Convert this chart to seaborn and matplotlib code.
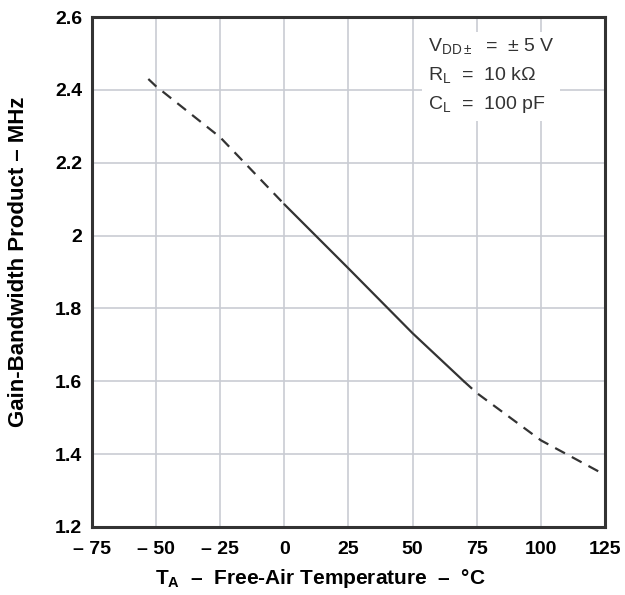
import matplotlib
matplotlib.use("Agg")
import matplotlib.pyplot as plt
import seaborn as sns
import numpy as np

# Data
temp_low = [-53, -50, -25, 0]
gbw_low = [2.43, 2.41, 2.27, 2.086]
temp_mid = [0, 25, 50, 70]
gbw_mid = [2.086, 1.91, 1.732, 1.60]
temp_high = [70, 75, 100, 125]
gbw_high = [1.60, 1.568, 1.438, 1.343]

x_ticks = [-75, -50, -25, 0, 25, 50, 75, 100, 125]
x_tick_labels = ["\u2013 75", "\u2013 50", "\u2013 25", "0", "25", "50", "75", "100", "125"]
y_ticks = [1.2, 1.4, 1.6, 1.8, 2.0, 2.2, 2.4, 2.6]
y_tick_labels = ["1.2", "1.4", "1.6", "1.8", "2", "2.2", "2.4", "2.6"]

sns.set_style("white")
plt.rcParams["font.family"] = ["Liberation Sans", "DejaVu Sans"]
plt.rcParams["mathtext.fontset"] = "custom"
plt.rcParams["mathtext.rm"] = "Liberation Sans"
plt.rcParams["mathtext.bf"] = "Liberation Sans:bold"
plt.rcParams["mathtext.default"] = "regular"
plt.rcParams["text.color"] = "black"
plt.rcParams["axes.labelcolor"] = "black"
plt.rcParams["xtick.color"] = "black"
plt.rcParams["ytick.color"] = "black"

fig = plt.figure(figsize=(6.25, 5.95), dpi=100)
ax = fig.add_axes([0.147, 0.1143, 0.821, 0.857])

line_color = "#333333"
sns.lineplot(x=temp_low, y=gbw_low, ax=ax, color=line_color, linewidth=1.6,
             linestyle=(0, (5, 3.5)))
sns.lineplot(x=temp_mid, y=gbw_mid, ax=ax, color=line_color, linewidth=1.6)
sns.lineplot(x=temp_high, y=gbw_high, ax=ax, color=line_color, linewidth=1.6,
             linestyle=(0, (5, 3.5)))

ax.set_xlim(-75, 125)
ax.set_ylim(1.2, 2.6)
ax.set_xticks(x_ticks)
ax.set_xticklabels(x_tick_labels)
ax.set_yticks(y_ticks)
ax.set_yticklabels(y_tick_labels)
ax.grid(True, color="#c9ccd3", linewidth=1.2)
ax.set_axisbelow(True)
for lab in ax.get_xticklabels() + ax.get_yticklabels():
    lab.set_fontweight("bold")
    lab.set_fontsize(14)
ax.tick_params(axis="x", length=0, pad=10)
ax.tick_params(axis="y", length=0, pad=7)

for s in ax.spines.values():
    s.set_visible(True)
    s.set_color("#333333")
    s.set_linewidth(2.2)

ax.set_xlabel("T$_{\\mathbf{A}}$  \u2013  Free-Air Temperature  \u2013  \u00b0C",
              fontsize=15, fontweight="bold")
ax.set_ylabel("Gain-Bandwidth Product \u2013 MHz", fontsize=16,
              fontweight="bold")
ax.xaxis.set_label_coords(0.446, -0.078)
ax.yaxis.set_label_coords(-0.122, 0.52)

ax.text(0.655, 0.962,
        "V$_{DD\\pm}$  =  \u00b1 5 V\nR$_L$  =  10 k\u03a9\nC$_L$  =  100 pF",
        transform=ax.transAxes, fontsize=14, va="top", ha="left",
        linespacing=1.6, color="#333333",
        bbox=dict(facecolor="white", edgecolor="none", pad=4))

fig.savefig("out.png", dpi=100)
